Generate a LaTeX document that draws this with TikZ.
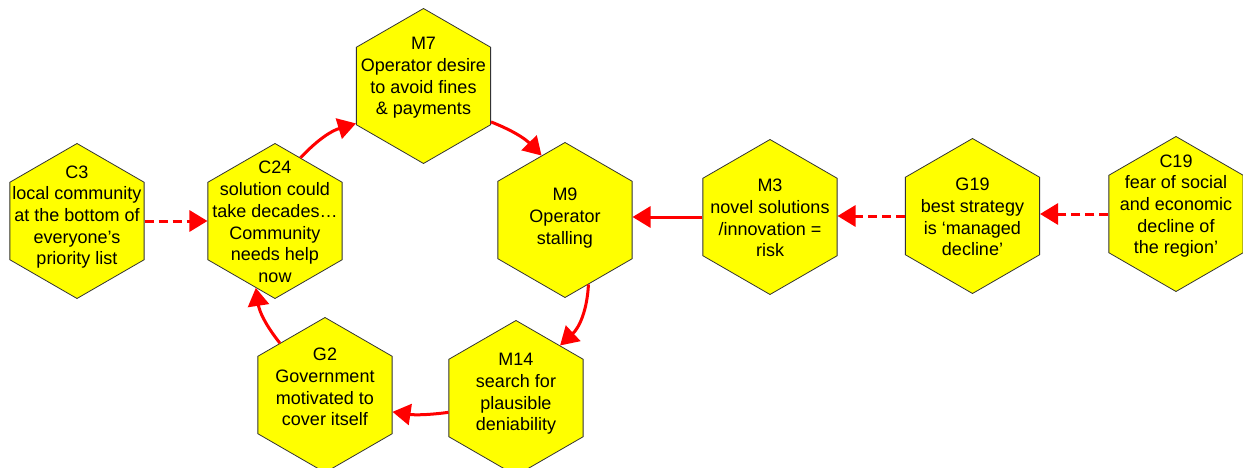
\documentclass[tikz,border=0pt]{standalone}
\usepackage{fontspec}
\setmainfont{Liberation Sans}
\usetikzlibrary{shapes.geometric,arrows.meta}
\definecolor{hexfill}{RGB}{255,255,0}
\definecolor{linkred}{RGB}{255,0,0}
\tikzset{
  hex/.style={regular polygon, regular polygon sides=6, shape border rotate=30,
    minimum size=155pt, inner sep=0pt, fill=hexfill, draw=black!80, line width=0.8pt},
  hextext/.style={align=center, font=\fontsize{18}{21.7}\selectfont, inner sep=0pt},
  link/.style={draw=linkred, line width=3pt, -{Triangle[length=18pt,width=21pt]}},
  dlink/.style={link, dash pattern=on 9pt off 5pt}
}
\begin{document}
\begin{tikzpicture}[x=1pt,y=1pt]
\useasboundingbox (0,0) rectangle (1243,-468);

% hexagons
\node[hex] (c3)  at (77,-221)   {};
\node[hex] (c24) at (275,-221)  {};
\node[hex] (m7)  at (423.5,-86) {};
\node[hex] (m9)  at (565,-220)  {};
\node[hex] (m3)  at (770,-217)  {};
\node[hex] (g19) at (972.5,-216){};
\node[hex] (c19) at (1176,-214) {};
\node[hex] (g2)  at (325,-395)  {};
\node[hex] (m14) at (516,-398)  {};

% texts
\node[hextext] (c3t)  at (77,-217)   {C3\\local community\\at the bottom of\\everyone’s\\priority list};
\node[hextext] (c24t) at (275,-222)  {C24\\solution could\\take decades…\\Community\\needs help\\now};
\node[hextext] (m7t)  at (423.5,-78) {M7\\Operator desire\\to avoid fines\\\& payments};
\node[hextext] (m9t)  at (565,-218)  {M9\\Operator\\stalling};
\node[hextext] (m3t)  at (770,-218)  {M3\\novel solutions\\/innovation =\\risk};
\node[hextext] (g19t) at (972.5,-217){G19\\best strategy\\is ‘managed\\decline’};
\node[hextext] (c19t) at (1176,-206) {C19\\fear of social\\and economic\\decline of\\the region’};
\node[hextext] (g2t)  at (325,-387)  {G2\\Government\\motivated to\\cover itself};
\node[hextext] (m14t) at (516,-394)  {M14\\search for\\plausible\\deniability};

% connectors
\draw[dlink] (c3.east) -- (c24.west);
\draw[link] (c24.68) to[bend left=15] (m7.209);
\draw[link] (m7.332) to[bend left=12] (m9.110);
\draw[link] (m9.290) to[bend left=22] (m14.50);
\draw[link] (m14.192) to[bend left=8] (g2.346);
\draw[link] (g2.131) to[bend left=15] (c24.254);
\draw[link] (m3.west) -- (m3.west -| m9.east);
\draw[dlink] (g19.west) -- (g19.west -| m3.east);
\draw[dlink] (c19.west) -- (c19.west -| g19.east);
\end{tikzpicture}
\end{document}
